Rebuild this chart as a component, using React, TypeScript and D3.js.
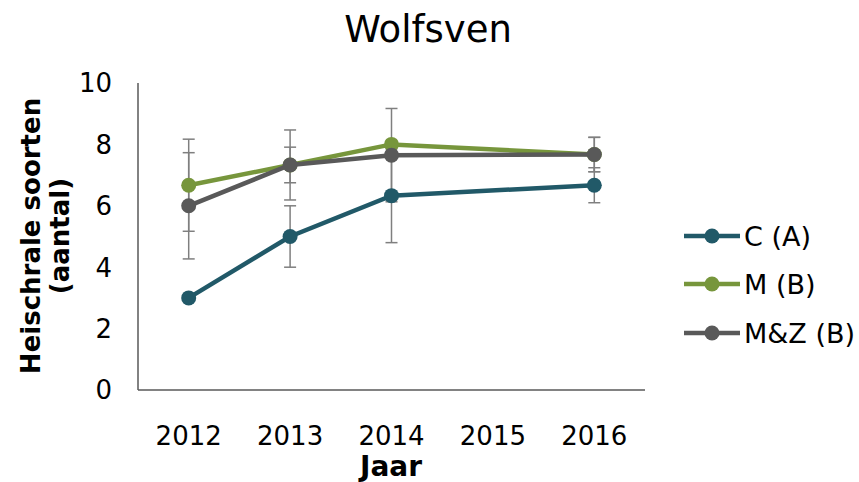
import React from "react";
import * as d3 from "d3";

const years = ["2012", "2013", "2014", "2015", "2016"];
const yTicks = [0, 2, 4, 6, 8, 10];

const seriesNames = ["C (A)", "M (B)", "M&Z (B)"];
const seriesColors = ["#215968", "#77963c", "#595959"];
const cValues: (number | null)[] = [3.0, 5.0, 6.33, null, 6.67];
const cErrors: (number | null)[] = [0, 1.0, 1.53, null, 0.57];
const mValues: (number | null)[] = [6.67, 7.33, 8.0, null, 7.67];
const mErrors: (number | null)[] = [1.5, 0.58, 0, null, 0.56];
const mzValues: (number | null)[] = [6.0, 7.33, 7.65, null, 7.67];
const mzErrors: (number | null)[] = [1.73, 1.14, 1.52, null, 0.56];

const allValues = [cValues, mValues, mzValues];
const allErrors = [cErrors, mErrors, mzErrors];

const W = 859;
const H = 482;
const FONT = "'DejaVu Sans', Verdana, sans-serif";

export default function App() {
  const left = 138;
  const right = 645;
  const top = 83;
  const bottom = 390;

  const x = d3.scaleBand<string>().domain(years).range([left, right]);
  const y = d3.scaleLinear().domain([0, 10]).range([bottom, top]);
  const cx = (yr: string) => (x(yr) as number) + x.bandwidth() / 2;

  const line = d3
    .line<[string, number]>()
    .x((d) => cx(d[0]))
    .y((d) => y(d[1]));

  const pts = allValues.map((vals) =>
    years
      .map((yr, i) => [yr, vals[i]] as [string, number | null])
      .filter((d) => d[1] !== null) as [string, number][]
  );

  const legendY = [236, 284, 333];

  return (
    <svg
      width={W}
      height={H}
      style={{ position: "absolute", left: 0, top: 0, background: "#fff" }}
      fontFamily={FONT}
    >
      <text x={428} y={42} textAnchor="middle" fontSize={37} fill="#000">
        Wolfsven
      </text>

      {/* axes */}
      <line x1={left} x2={left} y1={top} y2={bottom} stroke="#595959" strokeWidth={1.5} />
      <line x1={left} x2={right} y1={bottom} y2={bottom} stroke="#595959" strokeWidth={1.5} />

      {yTicks.map((t) => (
        <text
          key={t}
          x={112}
          y={y(t)}
          dy="0.36em"
          textAnchor="end"
          fontSize={26}
          fill="#000"
        >
          {t}
        </text>
      ))}
      {years.map((yr) => (
        <text key={yr} x={cx(yr)} y={445} textAnchor="middle" fontSize={26} fill="#000">
          {yr}
        </text>
      ))}

      <text x={391} y={476} textAnchor="middle" fontSize={28} fontWeight="bold" fill="#000">
        Jaar
      </text>
      <g transform="translate(0,236) rotate(-90)">
        <text x={0} y={40} textAnchor="middle" fontSize={26} fontWeight="bold" fill="#000">
          Heischrale soorten
        </text>
        <text x={0} y={69} textAnchor="middle" fontSize={26} fontWeight="bold" fill="#000">
          (aantal)
        </text>
      </g>

      {/* error bars */}
      {allValues.map((vals, s) =>
        years.map((yr, i) => {
          const v = vals[i];
          const e = allErrors[s][i];
          if (v === null || e === null || e === 0) return null;
          const px = cx(yr);
          return (
            <g key={`e${s}-${i}`} stroke="#7f7f7f" strokeWidth={1.5}>
              <line x1={px} x2={px} y1={y(v + e)} y2={y(v - e)} />
              <line x1={px - 6} x2={px + 6} y1={y(v + e)} y2={y(v + e)} />
              <line x1={px - 6} x2={px + 6} y1={y(v - e)} y2={y(v - e)} />
            </g>
          );
        })
      )}

      {/* series */}
      {pts.map((p, s) => (
        <g key={`s${s}`}>
          <path d={line(p) || ""} fill="none" stroke={seriesColors[s]} strokeWidth={4.5} />
          {p.map((d, i) => (
            <circle key={i} cx={cx(d[0])} cy={y(d[1])} r={7.5} fill={seriesColors[s]} />
          ))}
        </g>
      ))}

      {/* legend */}
      {seriesNames.map((n, s) => (
        <g key={n}>
          <line x1={684} x2={740} y1={legendY[s]} y2={legendY[s]} stroke={seriesColors[s]} strokeWidth={4.5} />
          <circle cx={712} cy={legendY[s]} r={7.5} fill={seriesColors[s]} />
          <text x={744} y={legendY[s]} dy="0.36em" fontSize={27} fill="#000">
            {n}
          </text>
        </g>
      ))}
    </svg>
  );
}
